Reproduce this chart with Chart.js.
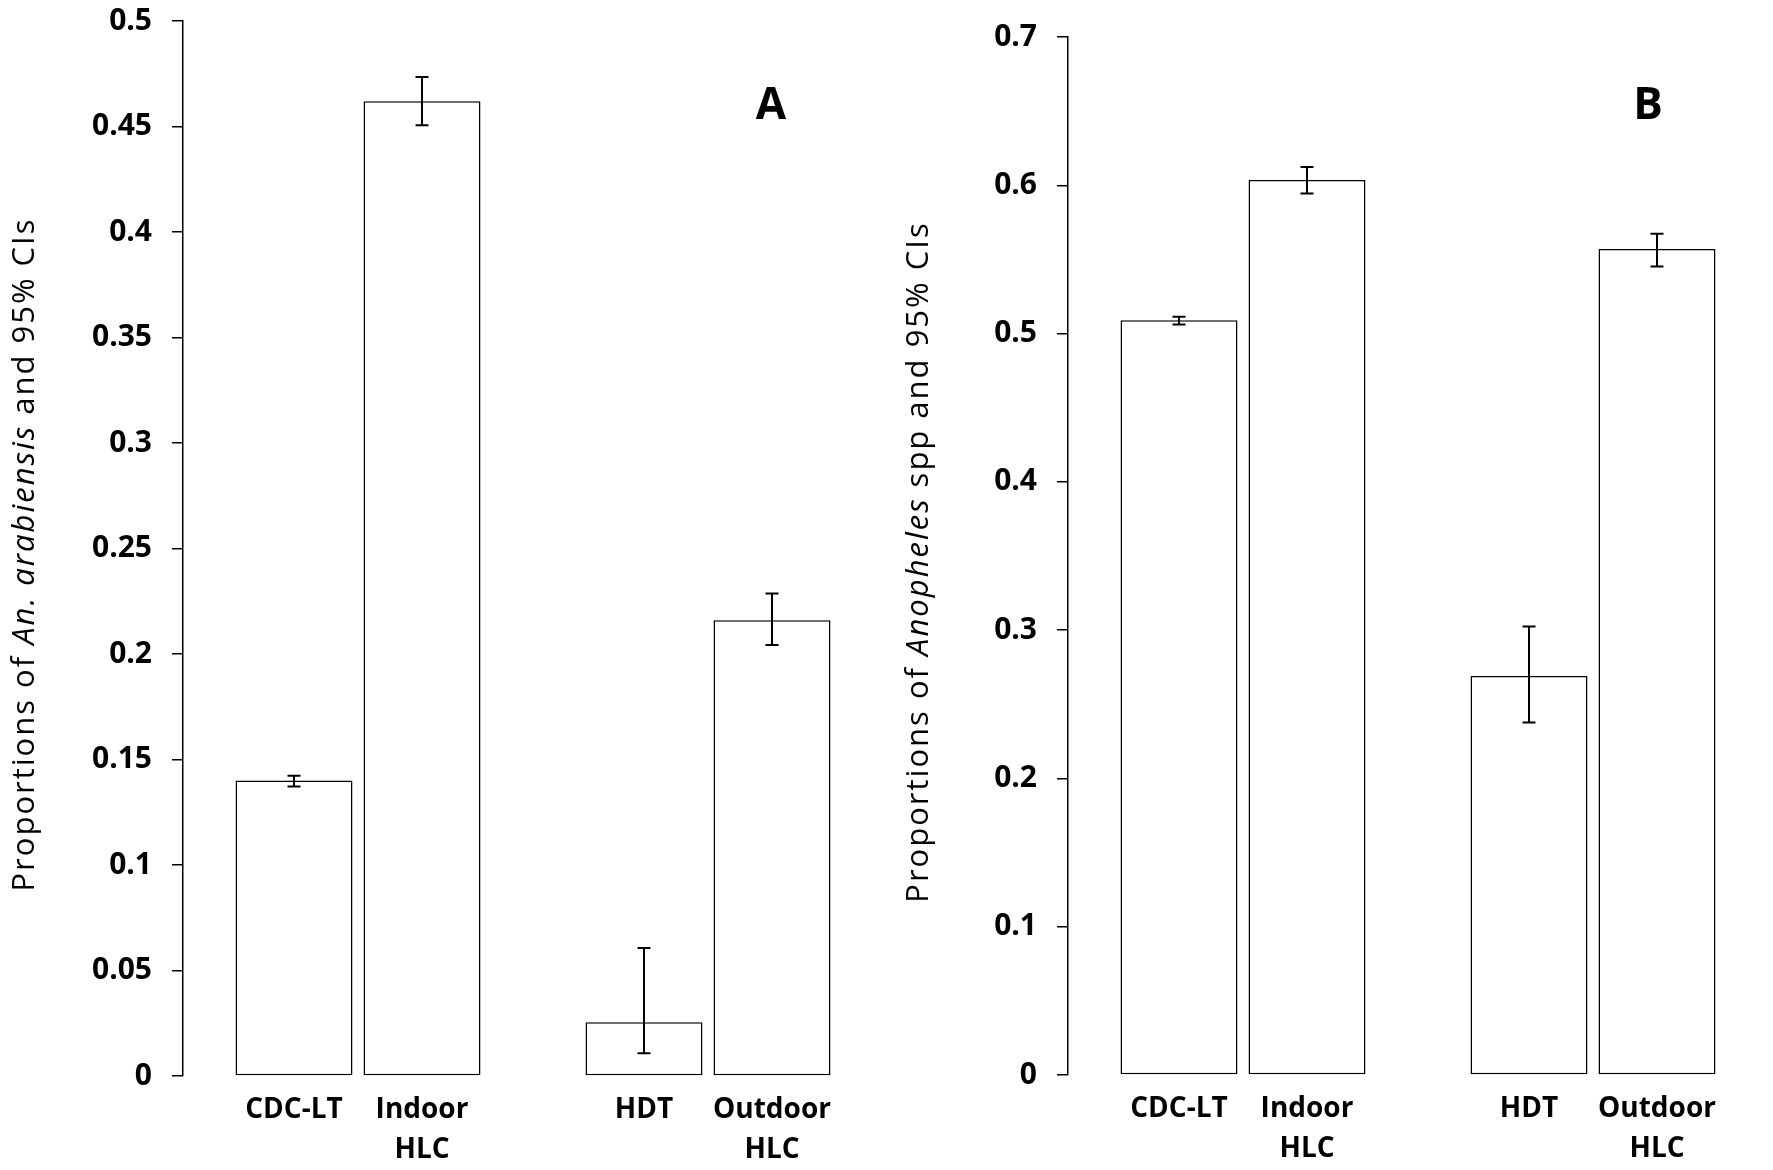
<!DOCTYPE html>
<html lang="en">
<head>
<meta charset="UTF-8">
<title>Proportions and 95% CIs</title>
<script src="https://cdn.jsdelivr.net/npm/chart.js@4.4.1/dist/chart.umd.min.js"></script>
<style>
  body { margin: 0; background: #fff; width: 1773px; height: 1170px; position: relative; overflow: hidden; }
  canvas { position: absolute; top: 0; }
  #chartA { left: 0; }
  #chartB { left: 886px; }
</style>
</head>
<body>
<canvas id="chartA" width="886" height="1170"></canvas>
<canvas id="chartB" width="887" height="1170"></canvas>
<script>
  // sampling methods, in order: two indoor-type, two outdoor-type
  const methods = ['CDC-LT', 'Indoor HLC', 'HDT', 'Outdoor HLC'];
  const groups = ['indoor', 'outdoor'];

  // panel A - An. arabiensis
  const propA = [0.140, 0.462, 0.0255, 0.216];
  const lowA = [0.1372, 0.4506, 0.0108, 0.2043];
  const highA = [0.1423, 0.4735, 0.0607, 0.2287];
  const ticksA = ['0', '0.05', '0.1', '0.15', '0.2', '0.25', '0.3', '0.35', '0.4', '0.45', '0.5'];

  // panel B - Anopheles spp
  const propB = [0.509, 0.6035, 0.269, 0.557];
  const lowB = [0.5061, 0.5945, 0.2377, 0.5453];
  const highB = [0.5114, 0.6123, 0.3024, 0.5674];
  const ticksB = ['0', '0.1', '0.2', '0.3', '0.4', '0.5', '0.6', '0.7'];

  const tickFont = { family: 'Open Sans', size: 30, weight: 'bold' };
  const titleFont = '31px "Open Sans"';

  // error bars, method labels, rotated y title and panel letter
  const panelDecor = {
    id: 'panelDecor',
    afterDatasetsDraw(chart, args, opts) {
      const ctx = chart.ctx;
      const y = chart.scales.y;
      const area = chart.chartArea;
      ctx.save();
      ctx.strokeStyle = '#000';
      ctx.fillStyle = '#000';
      ctx.lineWidth = 2;
      chart.data.datasets.forEach((ds, i) => {
        chart.getDatasetMeta(i).data.forEach((bar, j) => {
          const top = y.getPixelForValue(ds.high[j]);
          const bot = y.getPixelForValue(ds.low[j]);
          ctx.beginPath();
          ctx.moveTo(bar.x, top); ctx.lineTo(bar.x, bot);
          ctx.moveTo(bar.x - 6.5, top); ctx.lineTo(bar.x + 6.5, top);
          ctx.moveTo(bar.x - 6.5, bot); ctx.lineTo(bar.x + 6.5, bot);
          ctx.stroke();

          // method label under the bar
          ctx.font = 'bold 28px "Open Sans"';
          ctx.textAlign = 'center';
          ctx.textBaseline = 'alphabetic';
          ds.names[j].split(' ').forEach((line, k) => {
            ctx.fillText(line, bar.x, area.bottom + 42 + k * 40);
          });
        });
      });

      // y axis title, part italic
      ctx.letterSpacing = '2px';
      const parts = opts.title;
      let total = 0;
      parts.forEach(p => {
        ctx.font = (p.italic ? 'italic ' : '') + titleFont;
        total += ctx.measureText(p.text).width;
      });
      ctx.translate(opts.titleX, (area.top + area.bottom) / 2 + 6);
      ctx.rotate(-Math.PI / 2);
      ctx.textAlign = 'left';
      ctx.textBaseline = 'middle';
      let x = -total / 2;
      parts.forEach(p => {
        ctx.font = (p.italic ? 'italic ' : '') + titleFont;
        ctx.fillText(p.text, x, 0);
        x += ctx.measureText(p.text).width;
      });
      ctx.restore();

      ctx.save();
      ctx.fillStyle = '#000';
      ctx.font = 'bold 44px "Open Sans"';
      ctx.textAlign = 'center';
      ctx.textBaseline = 'middle';
      ctx.fillText(opts.letter, opts.letterX, opts.letterY);
      ctx.restore();
    }
  };

  function makeChart(id, prop, low, high, tickLabels, step, max, cfg) {
    // first and second method of each group go into separate datasets
    const firsts = [0, 2], seconds = [1, 3];
    const pick = (arr, idx) => idx.map(k => arr[k]);
    const barStyle = {
      backgroundColor: '#fff',
      borderColor: '#000',
      borderWidth: 1.5,
      borderSkipped: false,
      barPercentage: 0.914,
      categoryPercentage: 0.7314
    };
    return new Chart(document.getElementById(id), {
      type: 'bar',
      data: {
        labels: groups,
        datasets: [
          Object.assign({ data: pick(prop, firsts), low: pick(low, firsts), high: pick(high, firsts), names: pick(methods, firsts) }, barStyle),
          Object.assign({ data: pick(prop, seconds), low: pick(low, seconds), high: pick(high, seconds), names: pick(methods, seconds) }, barStyle)
        ]
      },
      options: {
        responsive: false,
        animation: false,
        layout: { padding: cfg.padding },
        plugins: {
          legend: { display: false },
          tooltip: { enabled: false },
          panelDecor: cfg.decor
        },
        scales: {
          x: {
            ticks: { display: false },
            grid: { display: false },
            border: { display: false },
            afterFit(scale) { scale.height = cfg.xHeight; }
          },
          y: {
            min: 0,
            max: max,
            ticks: {
              stepSize: step,
              color: '#000',
              font: tickFont,
              padding: 20,
              callback: v => tickLabels[Math.round(v / step)]
            },
            grid: { drawOnChartArea: false, drawTicks: true, tickLength: 11, color: '#000', lineWidth: 1.5 },
            border: { display: true, color: '#000', width: 1.5 },
            afterFit(scale) {
              scale.width = cfg.yWidth;
              scale.paddingTop = 0;
              scale.paddingBottom = 0;
            }
          }
        }
      },
      plugins: [panelDecor]
    });
  }

  makeChart('chartA', propA, lowA, highA, ticksA, 0.05, 0.5, {
    padding: { top: 21, right: 3, left: 0, bottom: 0 },
    xHeight: 94,
    yWidth: 183,
    decor: {
      title: [{ text: 'Proportions of ' }, { text: 'An. arabiensis', italic: true }, { text: ' and 95% CIs' }],
      titleX: 25, letter: 'A', letterX: 771, letterY: 106
    }
  });

  makeChart('chartB', propB, lowB, highB, ticksB, 0.1, 0.7, {
    padding: { top: 37, right: 5, left: 0, bottom: 0 },
    xHeight: 95,
    yWidth: 182,
    decor: {
      title: [{ text: 'Proportions of ' }, { text: 'Anopheles', italic: true }, { text: ' spp and 95% CIs' }],
      titleX: 33, letter: 'B', letterX: 762, letterY: 106
    }
  });
</script>
</body>
</html>
